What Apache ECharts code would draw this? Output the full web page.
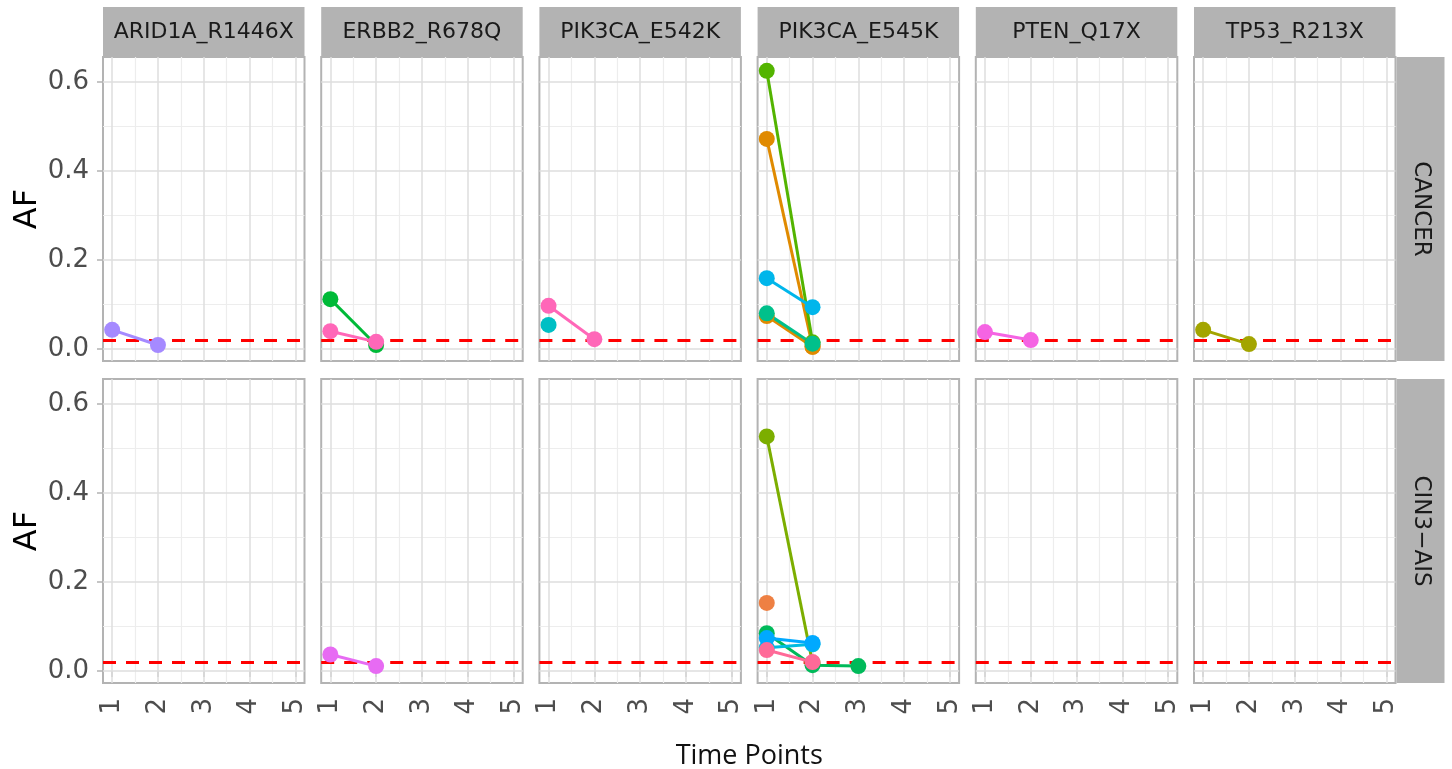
<!DOCTYPE html>
<html>
<head>
<meta charset="utf-8">
<script src="https://cdn.jsdelivr.net/npm/echarts@6/dist/echarts.min.js"></script>
<style>
html,body{margin:0;padding:0;background:#fff;}
#chart{width:1452px;height:769px;}
</style>
</head>
<body>
<div id="chart"></div>
<script>
// ---- data ----
const genes = ['ARID1A_R1446X', 'ERBB2_R678Q', 'PIK3CA_E542K', 'PIK3CA_E545K', 'PTEN_Q17X', 'TP53_R213X'];
const groups = ['CANCER', 'CIN3\u2212AIS'];
const timePoints = [1, 2, 3, 4, 5];
const yTicks = [0, 0.2, 0.4, 0.6];
const afThreshold = 0.02;

// each trace: [gene index, group index, colour, AF values by time point]
const arid1aCancer   = [0, 0, '#A58AFF', [0.043, 0.009]];
const erbb2CancerA   = [1, 0, '#00BA38', [0.112, 0.009]];
const erbb2CancerB   = [1, 0, '#FF67B8', [0.040, 0.016]];
const e542kCancerA   = [2, 0, '#FF67B8', [0.097, 0.022]];
const e542kCancerB   = [2, 0, '#00BFC4', [0.054]];
const e545kCancerA   = [3, 0, '#E08A00', [0.472, 0.005]];
const e545kCancerB   = [3, 0, '#53B400', [0.625, 0.015]];
const e545kCancerC   = [3, 0, '#E08A00', [0.074, 0.005]];
const e545kCancerD   = [3, 0, '#00C08B', [0.080, 0.012]];
const e545kCancerE   = [3, 0, '#00B6EB', [0.159, 0.094]];
const ptenCancer     = [4, 0, '#F564E3', [0.038, 0.020]];
const tp53Cancer     = [5, 0, '#A3A500', [0.043, 0.011]];
const erbb2Cin       = [1, 1, '#E76BF3', [0.037, 0.011]];
const e545kCinA      = [3, 1, '#7CAE00', [0.527, 0.018]];
const e545kCinB      = [3, 1, '#EE8043', [0.153]];
const e545kCinC      = [3, 1, '#00BA5A', [0.085, 0.013, 0.011]];
const e545kCinD      = [3, 1, '#00BCE0', [0.052, 0.060]];
const e545kCinE      = [3, 1, '#00A9FF', [0.074, 0.063]];
const e545kCinF      = [3, 1, '#FF6A98', [0.047, 0.020]];

const traces = [arid1aCancer, erbb2CancerA, erbb2CancerB, e542kCancerA, e542kCancerB,
  e545kCancerA, e545kCancerB, e545kCancerC, e545kCancerD, e545kCancerE,
  ptenCancer, tp53Cancer, erbb2Cin, e545kCinA, e545kCinB, e545kCinC, e545kCinD, e545kCinE, e545kCinF];

// ---- layout ----
const panelLeft0 = 103, panelPitch = 218.2, panelW = 201.5, panelH = 304;
const rowTops = [57, 379];
const stripH = 50, stripW = 48;
const xMin = 0.8, xMax = 5.2, yMin = -0.027, yMax = 0.656;
const tickFont = 'DejaVu Sans';

const grids = [], xAxes = [], yAxes = [], series = [], graphics = [];
const majorX = timePoints;
const minorX = [1.5, 2.5, 3.5, 4.5];
const minorY = [0.1, 0.3, 0.5];

function gridIndex(g, r) { return r * genes.length + g; }

for (let r = 0; r < groups.length; r++) {
  for (let c = 0; c < genes.length; c++) {
    const idx = gridIndex(c, r);
    const left = panelLeft0 + c * panelPitch;
    grids.push({
      left: left, top: rowTops[r], width: panelW, height: panelH,
      show: true, borderColor: '#B3B3B3', borderWidth: 2, backgroundColor: '#fff',
      containLabel: false, outerBoundsMode: 'none'
    });
    const bottomRow = r === groups.length - 1;
    const leftCol = c === 0;
    xAxes.push({
      type: 'value', gridIndex: idx, min: xMin, max: xMax,
      axisLine: { show: false },
      splitLine: { show: false },
      axisTick: { show: bottomRow, customValues: timePoints, length: 6, lineStyle: { color: '#B3B3B3', width: 1.5 } },
      axisLabel: { show: bottomRow, customValues: timePoints, rotate: 90, margin: 15,
        fontSize: 26, color: '#4D4D4D', fontFamily: tickFont }
    });
    yAxes.push({
      type: 'value', gridIndex: idx, min: yMin, max: yMax,
      axisLine: { show: false },
      splitLine: { show: false },
      axisTick: { show: leftCol, customValues: yTicks, length: 6, lineStyle: { color: '#B3B3B3', width: 1.5 } },
      axisLabel: { show: leftCol, customValues: yTicks, margin: 14,
        fontSize: 26, color: '#4D4D4D', fontFamily: tickFont,
        formatter: v => Number(v).toFixed(1) }
    });
    // grid lines
    const gl = [];
    minorX.forEach(v => gl.push({ xAxis: v, lineStyle: { color: '#EDEDED', width: 1.2, type: 'solid' } }));
    minorY.forEach(v => gl.push({ yAxis: v, lineStyle: { color: '#EDEDED', width: 1.2, type: 'solid' } }));
    majorX.forEach(v => gl.push({ xAxis: v, lineStyle: { color: '#DEDEDE', width: 1.5, type: 'solid' } }));
    yTicks.forEach(v => gl.push({ yAxis: v, lineStyle: { color: '#DEDEDE', width: 1.5, type: 'solid' } }));
    series.push({
      type: 'line', xAxisIndex: idx, yAxisIndex: idx, data: [], silent: true, z: 1,
      markLine: { silent: true, symbol: 'none', label: { show: false }, animation: false, data: gl }
    });
    // threshold line
    series.push({
      type: 'line', xAxisIndex: idx, yAxisIndex: idx, data: [], silent: true, z: 10,
      markLine: { silent: true, symbol: 'none', label: { show: false }, animation: false,
        data: [{ yAxis: afThreshold, lineStyle: { color: '#FF0000', width: 3.2, type: [13, 10], opacity: 1 } }] }
    });
    // top strip
    if (r === 0) {
      graphics.push({ type: 'rect', shape: { x: left, y: 7, width: panelW, height: stripH },
        style: { fill: '#B3B3B3' }, silent: true });
      graphics.push({ type: 'text', x: left + panelW / 2, y: 7 + stripH / 2,
        style: { text: genes[c], fontSize: 22, fontFamily: tickFont, fill: '#1A1A1A',
          textAlign: 'center', textVerticalAlign: 'middle' }, silent: true });
    }
  }
  // right strip
  const rightX = panelLeft0 + (genes.length - 1) * panelPitch + panelW + 1;
  graphics.push({ type: 'rect', shape: { x: rightX, y: rowTops[r], width: stripW, height: panelH },
    style: { fill: '#B3B3B3' }, silent: true });
  graphics.push({ type: 'text', x: rightX + stripW / 2, y: rowTops[r] + panelH / 2, rotation: -Math.PI / 2,
    style: { text: groups[r], fontSize: 23, fontFamily: tickFont, fill: '#1A1A1A',
      textAlign: 'center', textVerticalAlign: 'middle' }, silent: true });
  // y axis title
  graphics.push({ type: 'text', x: 28, y: rowTops[r] + panelH / 2, rotation: Math.PI / 2,
    style: { text: 'AF', fontSize: 32, fontFamily: tickFont, fill: '#000',
      textAlign: 'center', textVerticalAlign: 'middle' }, silent: true });
}

// x axis title
graphics.push({ type: 'text', x: panelLeft0 + ((genes.length - 1) * panelPitch + panelW) / 2, y: 756,
  style: { text: 'Time Points', fontSize: 27, fontFamily: 'Open Sans', fill: '#111',
    textAlign: 'center', textVerticalAlign: 'middle' }, silent: true });

// data traces
traces.forEach(t => {
  const idx = gridIndex(t[0], t[1]);
  const pts = [];
  t[3].forEach((v, i) => { if (v != null) pts.push([timePoints[i], v]); });
  series.push({
    type: 'line', xAxisIndex: idx, yAxisIndex: idx, z: 5,
    data: pts, symbol: 'circle', symbolSize: 16, showSymbol: true,
    itemStyle: { color: t[2] }, lineStyle: { color: t[2], width: 3 },
    emphasis: { disabled: true }, animation: false
  });
});

const chart = echarts.init(document.getElementById('chart'), null, { renderer: 'canvas' });
chart.setOption({
  animation: false,
  backgroundColor: '#fff',
  grid: grids, xAxis: xAxes, yAxis: yAxes, series: series, graphic: graphics
});
</script>
</body>
</html>
